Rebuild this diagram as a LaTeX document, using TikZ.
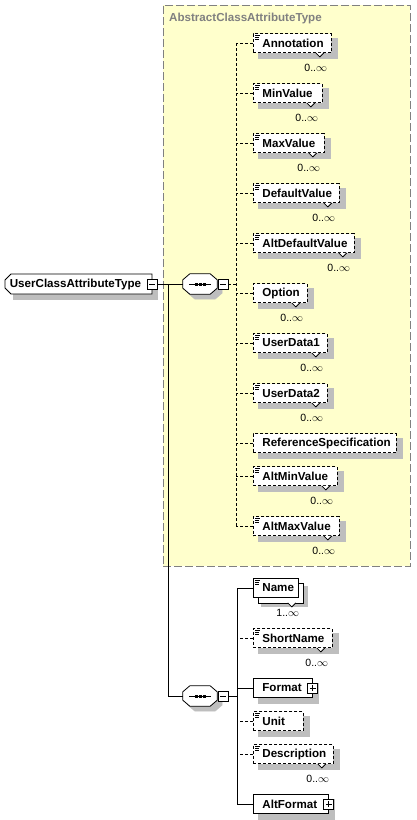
\documentclass[tikz,border=0pt]{standalone}
\usepackage{fontspec}
\setmainfont{Liberation Sans}
\usetikzlibrary{shapes.misc,calc}
\definecolor{abstractfill}{RGB}{255,255,204}
\definecolor{abstractline}{RGB}{128,128,128}
\definecolor{shadegray}{RGB}{190,190,190}
\pgfdeclarelayer{grouplayer}
\pgfdeclarelayer{shadowlayer}
\pgfsetlayers{grouplayer,shadowlayer,main}
\tikzset{
  conn/.style={line width=0.9pt},
  optconn/.style={conn, dash pattern=on 3pt off 2pt},
  shadowfill/.style={fill=shadegray, draw=shadegray, line width=0.2pt},
  backbox/.style={fill=white, draw=black, line width=0.8pt},
  elembox/.style={draw=black, fill=white, line width=0.8pt, inner xsep=0pt, inner ysep=0pt,
                  minimum height=19pt, anchor=west, align=left,
                  font=\bfseries\fontsize{11.6}{13}\selectfont},
  optional/.style={dash pattern=on 3pt off 2pt},
  docicon/.style={path picture={
      \draw[solid, line width=0.7pt] ([xshift=2pt,yshift=-2pt]path picture bounding box.north west) -- ++(5pt,0pt);
      \draw[solid, line width=0.7pt] ([xshift=2pt,yshift=-4pt]path picture bounding box.north west) -- ++(4pt,0pt);
      \draw[solid, line width=0.7pt] ([xshift=2pt,yshift=-6pt]path picture bounding box.north west) -- ++(4pt,0pt);}},
  pmbox/.style={draw=black, fill=white, line width=0.8pt, minimum size=10pt, inner sep=0pt},
  pmminus/.style={pmbox, path picture={
      \draw[line width=0.8pt] ([xshift=-3pt]path picture bounding box.center) -- ([xshift=3pt]path picture bounding box.center);}},
  pmplus/.style={pmbox, path picture={
      \draw[line width=0.8pt] ([xshift=-3pt]path picture bounding box.center) -- ([xshift=3pt]path picture bounding box.center);
      \draw[line width=0.8pt] ([yshift=-3pt]path picture bounding box.center) -- ([yshift=3pt]path picture bounding box.center);}},
  seqframe/.style={rectangle, minimum width=34pt, minimum height=20pt, inner sep=0pt},
  seqline/.style={draw=black, fill=white, line width=0.8pt},
  seqdot/.style={draw=black, fill=black, line width=0.4pt},
  rootbox/.style={chamfered rectangle, chamfered rectangle corners={north west,south west},
      chamfered rectangle xsep=3pt, chamfered rectangle ysep=3pt,
      draw=black, fill=white, line width=0.8pt, minimum width=147pt, minimum height=20pt, inner sep=0pt,
      font=\bfseries\fontsize{11.6}{13}\selectfont},
  groupbox/.style={draw=abstractline, dash pattern=on 8pt off 3pt, fill=abstractfill, line width=0.8pt,
      minimum width=247pt, minimum height=561pt, inner sep=0pt},
  grouplabel/.style={text=abstractline, font=\bfseries\fontsize{11.6}{13}\selectfont, inner sep=0pt, anchor=west},
  multlabel/.style={font=\fontsize{10.5}{12}\selectfont, inner sep=0pt},
  notch/.style={draw=black, fill=white, line width=0.8pt, solid}
}
\newcommand\multnote[3]{%
  \draw[notch] ($(#1.south east)+(-16pt+#3,-#3)$) -- ++(4pt,-4pt) -- ++(4pt,4pt);
  \node[multlabel] (#1-m) at ($(#1.south east)+(-16pt+#3,-14.5pt)$) {#2};}
% octagon outline of a compositor node #1, shifted by #2
\newcommand\octpath[2]{($(#1.north west)+(7pt+#2,-#2)$) -- ($(#1.north east)+(-7pt+#2,-#2)$)
  -- ($(#1.north east)+(#2,-6pt-#2)$) -- ($(#1.south east)+(#2,6pt-#2)$)
  -- ($(#1.south east)+(-7pt+#2,-#2)$) -- ($(#1.south west)+(7pt+#2,-#2)$)
  -- ($(#1.south west)+(#2,6pt-#2)$) -- ($(#1.north west)+(#2,-6pt-#2)$) -- cycle}
\newcommand\seqnode[3]{%
  \node[seqframe] (#1) at (#2,#3) {};
  \begin{pgfonlayer}{shadowlayer}\path[shadowfill] \octpath{#1}{5pt};\end{pgfonlayer}
  \path[seqline] \octpath{#1}{0pt};
  \draw[line width=0.8pt] ([xshift=-11pt]#1.center) -- ([xshift=11pt]#1.center);
  \foreach \d in {-3.8,0,3.8} \path[seqdot] ([xshift=\d pt]#1.center) +(-1.1pt,-1.1pt) rectangle +(1.1pt,1.1pt);}
\newcommand\boxshadow[2]{\path[shadowfill] ($(#1.north west)+(#2,-#2)$) rectangle ($(#1.south east)+(#2,-#2)$);}
\begin{document}
\begin{tikzpicture}[x=1pt,y=-1pt]
\useasboundingbox (0,0) rectangle (416,820);
% abstract group
\begin{pgfonlayer}{grouplayer}
\node[groupbox] (abstract) at (286.5,285.5) {};
\end{pgfonlayer}
\node[grouplabel] (abstractlabel) at (169,18) {AbstractClassAttributeType};
% root
\node[rootbox] (root) at (78.5,284) {\hspace*{-6pt}UserClassAttributeType};
\node[pmminus] (rootminus) at (152,284) {};
% compositors
\seqnode{seq1}{200}{284}
\node[pmminus] (seq1minus) at (223,284) {};
\seqnode{seq2}{200}{696}
\node[pmminus] (seq2minus) at (223,696) {};
% top group elements
\node[elembox, optional, docicon, text width=78pt]  (annotation) at (253,43) {\hspace*{9pt}Annotation};
\node[elembox, optional, docicon, text width=69pt]  (minvalue) at (253,93) {\hspace*{9pt}MinValue};
\node[elembox, optional, docicon, text width=71pt]  (maxvalue) at (253,143) {\hspace*{9pt}MaxValue};
\node[elembox, optional, docicon, text width=86pt]  (defaultvalue) at (253,193) {\hspace*{9pt}DefaultValue};
\node[elembox, optional, docicon, text width=101pt] (altdefaultvalue) at (253,243) {\hspace*{9pt}AltDefaultValue};
\node[elembox, optional, text width=54pt]           (option) at (253,293) {\hspace*{9pt}Option};
\node[elembox, optional, docicon, text width=74pt]  (userdata1) at (253,343) {\hspace*{9pt}UserData1};
\node[elembox, optional, docicon, text width=74pt]  (userdata2) at (253,393) {\hspace*{9pt}UserData2};
\node[elembox, optional, text width=143pt]          (refspec) at (253,443) {\hspace*{9pt}ReferenceSpecification};
\node[elembox, optional, docicon, text width=84pt]  (altminvalue) at (253,476) {\hspace*{9pt}AltMinValue};
\node[elembox, optional, docicon, text width=86pt]  (altmaxvalue) at (253,526) {\hspace*{9pt}AltMaxValue};
% bottom group elements
\node[elembox, docicon, text width=45pt]            (name) at (253,588) {\hspace*{9pt}Name};
\node[elembox, optional, docicon, text width=79pt]  (shortname) at (253,638) {\hspace*{9pt}ShortName};
\node[elembox, text width=59pt]                     (format) at (253,688) {\hspace*{9pt}Format};
\node[pmplus] (formatplus) at (format.east) {};
\node[elembox, optional, docicon, text width=50pt]  (unit) at (253,721) {\hspace*{9pt}Unit};
\node[elembox, optional, docicon, text width=80pt]  (description) at (253,754) {\hspace*{9pt}Description};
\node[elembox, text width=75pt]                     (altformat) at (253,804) {\hspace*{9pt}AltFormat};
\node[pmplus] (altformatplus) at (altformat.east) {};
% shadows
\begin{pgfonlayer}{shadowlayer}
\boxshadow{root}{5pt}
\foreach \n in {annotation,minvalue,maxvalue,defaultvalue,altdefaultvalue,option,userdata1,userdata2,refspec,altminvalue,altmaxvalue,shortname,format,unit,description,altformat}
  {\boxshadow{\n}{5pt}}
\boxshadow{name}{8pt}
\path[backbox] ($(name.north west)+(5pt,-5pt)$) rectangle ($(name.south east)+(5pt,-5pt)$);
\end{pgfonlayer}
% multiplicities
\multnote{annotation}{0..$\infty$}{0pt}
\multnote{minvalue}{0..$\infty$}{0pt}
\multnote{maxvalue}{0..$\infty$}{0pt}
\multnote{defaultvalue}{0..$\infty$}{0pt}
\multnote{altdefaultvalue}{0..$\infty$}{0pt}
\multnote{option}{0..$\infty$}{0pt}
\multnote{userdata1}{0..$\infty$}{0pt}
\multnote{userdata2}{0..$\infty$}{0pt}
\multnote{altminvalue}{0..$\infty$}{0pt}
\multnote{altmaxvalue}{0..$\infty$}{0pt}
\multnote{name}{1..$\infty$}{5pt}
\multnote{shortname}{0..$\infty$}{0pt}
\multnote{description}{0..$\infty$}{0pt}
% connectors: root
\coordinate (rootspine) at (168,284);
\draw[conn] (rootminus.east) -- (seq1.west);
\draw[conn] (rootspine) |- (seq2.west);
% top spine
\coordinate (spinetop) at (236,43);
\coordinate (spinetopend) at (236,526);
\draw[optconn] (spinetop) -- (spinetopend);
\draw[optconn] (seq1minus.east) -- (seq1minus.east -| spinetop);
\foreach \n in {annotation,minvalue,maxvalue,defaultvalue,altdefaultvalue,option,userdata1,userdata2,refspec,altminvalue,altmaxvalue}
  \draw[optconn] (\n.west) -- (\n.west -| spinetop);
% bottom spine
\coordinate (spinebot) at (237,588);
\coordinate (spinebotend) at (237,804);
\draw[conn] (spinebot) -- (spinebotend);
\draw[conn] (seq2minus.east) -- (seq2minus.east -| spinebot);
\foreach \n in {name,format,altformat}
  \draw[conn] (\n.west) -- (\n.west -| spinebot);
\foreach \n in {shortname,unit,description}
  \draw[optconn] (\n.west) -- (\n.west -| spinebot);
\end{tikzpicture}
\end{document}
